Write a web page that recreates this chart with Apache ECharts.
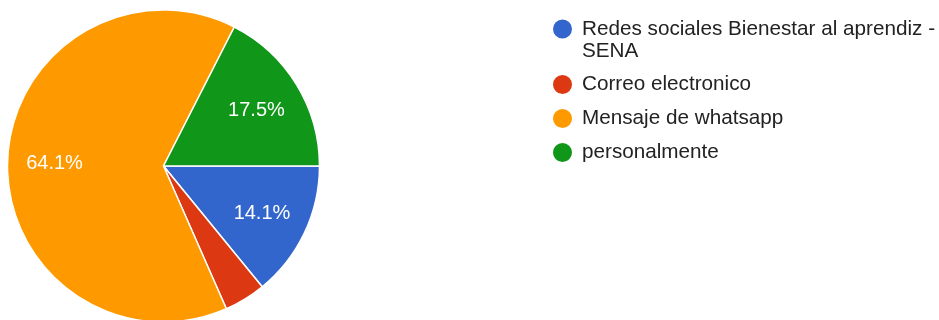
<!DOCTYPE html>
<html>
<head>
<meta charset="utf-8">
<script src="https://cdn.jsdelivr.net/npm/echarts@6/dist/echarts.min.js"></script>
<style>
html,body{margin:0;padding:0;background:#fff;}
#chart{width:939px;height:320px;}
</style>
</head>
<body>
<div id="chart"></div>
<script>
const categories = ['Redes sociales Bienestar al aprendiz - SENA', 'Correo electronico', 'Mensaje de whatsapp', 'personalmente'];
const values = [14.1, 4.3, 64.1, 17.5];
const showLabel = [true, false, true, true];
const colors = ['#3366CC', '#DC3912', '#FF9900', '#109618'];

const FONT = '"Liberation Sans", Arial, sans-serif';
const chart = echarts.init(document.getElementById('chart'), null, {renderer: 'canvas'});

const pieData = categories.map((name, i) => ({name: name, value: values[i], itemStyle: {color: colors[i]}}));
const labelData = categories.map((name, i) => ({name: name, value: values[i], label: {show: showLabel[i]}}));

chart.setOption({
  animation: false,
  color: colors,
  legend: {
    orient: 'vertical',
    left: 551,
    top: -4,
    padding: 0,
    icon: 'circle',
    itemWidth: 21,
    itemHeight: 21,
    itemGap: 11,
    selectedMode: false,
    textStyle: {fontFamily: FONT, fontSize: 20.7, color: '#222', lineHeight: 22, padding: [0, 0, 0, 4]},
    formatter: function (name) {
      // wrapped entry: a leading empty line keeps the marker beside the first line
      return name.indexOf(' - ') >= 0 ? '\n' + name.replace(' - ', ' -\n') : name;
    },
    data: categories
  },
  series: [
    {
      type: 'pie',
      center: [163.5, 166],
      radius: [0, 156],
      startAngle: 0,
      clockwise: true,
      label: {show: false},
      labelLine: {show: false},
      itemStyle: {borderColor: '#fff', borderWidth: 1.5},
      emphasis: {disabled: true},
      data: pieData
    },
    {
      type: 'pie',
      center: [163.5, 166],
      radius: [56, 156],
      startAngle: 0,
      clockwise: true,
      silent: true,
      itemStyle: {color: 'rgba(0,0,0,0)', borderWidth: 0},
      label: {show: true, position: 'inside', formatter: '{c}%', color: '#fff', fontFamily: FONT, fontSize: 20, offset: [0, 1]},
      labelLine: {show: false},
      emphasis: {disabled: true},
      data: labelData
    }
  ]
});
</script>
</body>
</html>
